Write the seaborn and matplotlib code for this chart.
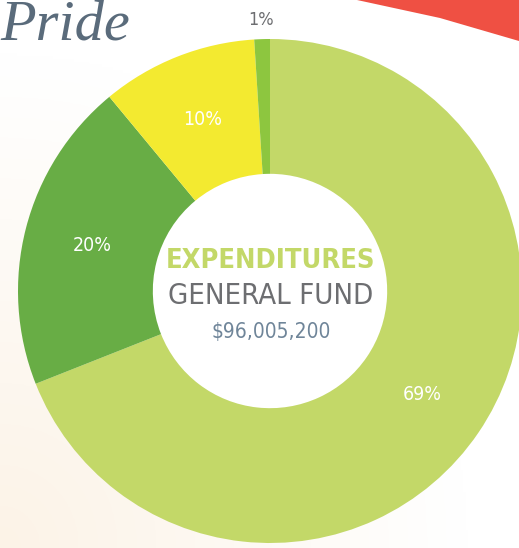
import numpy as np
import matplotlib
matplotlib.use('Agg')
import matplotlib.pyplot as plt
from matplotlib.patches import Polygon, Circle
import seaborn as sns

sns.set_theme(style="white")

# --- DATA ---
categories = ["Personnel", "Operations", "Capital", "Other"]
shares = [69, 20, 10, 1]
slice_colors = ["#C3D868", "#68AD45", "#F3EA30", "#8DC63F"]
title_top = "EXPENDITURES"
title_mid = "GENERAL FUND"
total_label = "$96,005,200"

FONT = ["DejaVu Sans"]
W, H = 519, 548
fig = plt.figure(figsize=(W / 100, H / 100), dpi=100)

# soft peach background gradient (white top-right -> peach bottom-left)
bg = fig.add_axes([0, 0, 1, 1])
yy, xx = np.mgrid[0:1:200j, 0:1:200j]
d = np.sqrt(xx ** 2 + (1 - yy) ** 2)
t = np.clip(1 - d / 0.9, 0, 1)
top = np.array([1.0, 1.0, 1.0])
low = np.array([252, 243, 231]) / 255
img = top[None, None, :] * (1 - t[..., None]) + low[None, None, :] * t[..., None]
bg.imshow(img, extent=[0, W, 0, H], aspect='auto', origin='upper')
bg.set_axis_off()

ax = fig.add_axes([0, 0, 1, 1])
ax.patch.set_alpha(0)
cx, cy, R = 270, H - 291, 252
wedges, texts, autotexts = ax.pie(
    shares, colors=slice_colors, startangle=90, counterclock=False,
    radius=R, center=(cx, cy), autopct='%d%%', pctdistance=0.73,
    wedgeprops=dict(width=R * 0.535, linewidth=0),
    textprops=dict(color="white", fontsize=14, family=FONT, fontstretch='condensed'))
ax.add_patch(Circle((cx, cy), R * 0.466, facecolor="white", edgecolor='none', zorder=0.5))
ax.set_xlim(0, W)
ax.set_ylim(0, H)
ax.set_aspect('equal')
ax.set_axis_off()

# small slice label sits outside the ring
for w, at, v in zip(wedges, autotexts, shares):
    if v < 5:
        mid = np.deg2rad((w.theta1 + w.theta2) / 2)
        at.set_position((cx + R * 1.075 * np.cos(mid), cy + R * 1.075 * np.sin(mid)))
        at.set_color("#6d6e71")
        at.set_fontsize(13)

ax.text(cx + 1, cy + 30, title_top, ha='center', va='center', fontsize=19.5,
        fontweight='bold', color="#C3D868", family=FONT, fontstretch='condensed')
ax.text(cx + 1, cy - 5, title_mid, ha='center', va='center', fontsize=21,
        color="#6d6e71", family=FONT, fontstretch='condensed')
ax.text(cx + 1, cy - 41, total_label, ha='center', va='center', fontsize=15,
        color="#6f8599", family=FONT, fontstretch='condensed')

# red header band, top-right
band = Polygon([(357, H), (W, H), (W, H - 41), (440, H - 18)], closed=True,
               facecolor="#EF5043", edgecolor='none')
ax.add_patch(band)

# script heading
ax.text(0, H - 26, "Pride", ha='left', va='center', fontsize=42, style='italic',
        color="#5a6b7b", family=["Liberation Serif", "DejaVu Serif"])

fig.savefig("out.png", dpi=100)
